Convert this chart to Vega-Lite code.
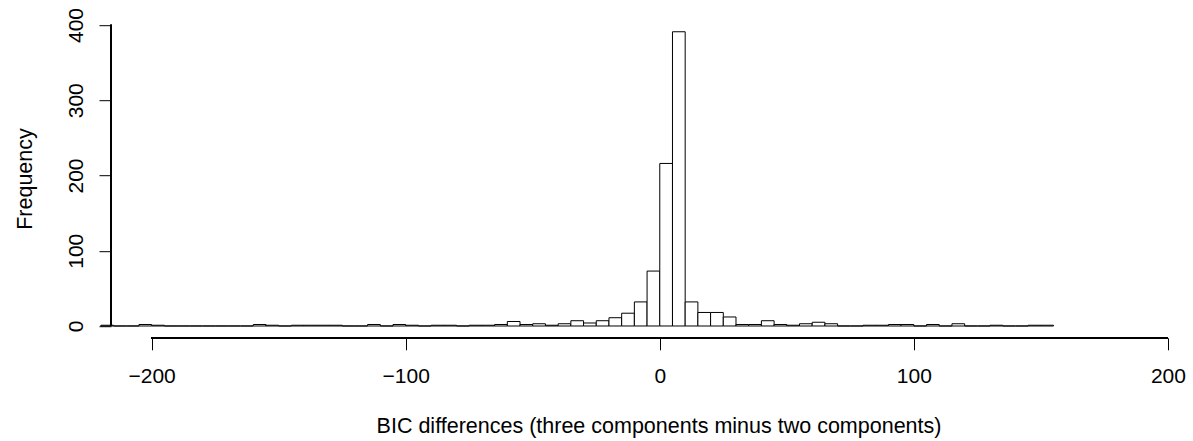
{
  "$schema": "https://vega.github.io/schema/vega-lite/v6.json",
  "width": 1079,
  "height": 318.6,
  "autosize": {"type": "none"},
  "padding": {"left": 111, "top": 19.2, "right": 3, "bottom": 103.2},
  "background": "white",
  "config": {
    "view": {"stroke": null},
    "font": "Liberation Sans",
    "axis": {
      "domain": false,
      "grid": false,
      "tickColor": "black",
      "tickWidth": 1,
      "tickSize": 12,
      "labelColor": "black",
      "labelFont": "Liberation Sans",
      "labelFontSize": 21,
      "titleColor": "black",
      "titleFont": "Liberation Sans",
      "titleFontSize": 21.5,
      "titleFontWeight": "normal",
      "labelFlush": false,
      "labelOverlap": false
    }
  },
  "data": {
    "values": [
      {"start": -220, "end": -215, "count": 1},
      {"start": -215, "end": -210, "count": 0},
      {"start": -210, "end": -205, "count": 0},
      {"start": -205, "end": -200, "count": 2},
      {"start": -200, "end": -195, "count": 1},
      {"start": -195, "end": -190, "count": 0},
      {"start": -190, "end": -185, "count": 0},
      {"start": -185, "end": -180, "count": 0},
      {"start": -180, "end": -175, "count": 0},
      {"start": -175, "end": -170, "count": 0},
      {"start": -170, "end": -165, "count": 0},
      {"start": -165, "end": -160, "count": 0},
      {"start": -160, "end": -155, "count": 2},
      {"start": -155, "end": -150, "count": 1},
      {"start": -150, "end": -145, "count": 0},
      {"start": -145, "end": -140, "count": 1},
      {"start": -140, "end": -135, "count": 1},
      {"start": -135, "end": -130, "count": 1},
      {"start": -130, "end": -125, "count": 1},
      {"start": -125, "end": -120, "count": 0},
      {"start": -120, "end": -115, "count": 0},
      {"start": -115, "end": -110, "count": 2},
      {"start": -110, "end": -105, "count": 0},
      {"start": -105, "end": -100, "count": 2},
      {"start": -100, "end": -95, "count": 1},
      {"start": -95, "end": -90, "count": 0},
      {"start": -90, "end": -85, "count": 1},
      {"start": -85, "end": -80, "count": 1},
      {"start": -80, "end": -75, "count": 0},
      {"start": -75, "end": -70, "count": 1},
      {"start": -70, "end": -65, "count": 1},
      {"start": -65, "end": -60, "count": 2},
      {"start": -60, "end": -55, "count": 6},
      {"start": -55, "end": -50, "count": 2},
      {"start": -50, "end": -45, "count": 3},
      {"start": -45, "end": -40, "count": 1},
      {"start": -40, "end": -35, "count": 3},
      {"start": -35, "end": -30, "count": 7},
      {"start": -30, "end": -25, "count": 4},
      {"start": -25, "end": -20, "count": 7},
      {"start": -20, "end": -15, "count": 11},
      {"start": -15, "end": -10, "count": 17},
      {"start": -10, "end": -5, "count": 32},
      {"start": -5, "end": 0, "count": 73},
      {"start": 0, "end": 5, "count": 216},
      {"start": 5, "end": 10, "count": 391},
      {"start": 10, "end": 15, "count": 32},
      {"start": 15, "end": 20, "count": 18},
      {"start": 20, "end": 25, "count": 18},
      {"start": 25, "end": 30, "count": 12},
      {"start": 30, "end": 35, "count": 2},
      {"start": 35, "end": 40, "count": 2},
      {"start": 40, "end": 45, "count": 7},
      {"start": 45, "end": 50, "count": 2},
      {"start": 50, "end": 55, "count": 1},
      {"start": 55, "end": 60, "count": 3},
      {"start": 60, "end": 65, "count": 5},
      {"start": 65, "end": 70, "count": 3},
      {"start": 70, "end": 75, "count": 0},
      {"start": 75, "end": 80, "count": 0},
      {"start": 80, "end": 85, "count": 1},
      {"start": 85, "end": 90, "count": 1},
      {"start": 90, "end": 95, "count": 2},
      {"start": 95, "end": 100, "count": 2},
      {"start": 100, "end": 105, "count": 0},
      {"start": 105, "end": 110, "count": 2},
      {"start": 110, "end": 115, "count": 0},
      {"start": 115, "end": 120, "count": 3},
      {"start": 120, "end": 125, "count": 0},
      {"start": 125, "end": 130, "count": 0},
      {"start": 130, "end": 135, "count": 1},
      {"start": 135, "end": 140, "count": 0},
      {"start": 140, "end": 145, "count": 0},
      {"start": 145, "end": 150, "count": 1},
      {"start": 150, "end": 155, "count": 1}
    ]
  },
  "layer": [
    {
      "mark": {"type": "bar", "fill": "white", "stroke": "black", "strokeWidth": 1, "clip": false},
      "encoding": {
        "x": {
          "field": "start",
          "type": "quantitative",
          "scale": {"domain": [-216, 208.7], "nice": false, "zero": false},
          "axis": {
            "values": [-200, -100, 0, 100, 200],
            "labelPadding": 16,
            "title": "BIC differences (three components minus two components)",
            "titleX": 547.5,
            "titleY": 95,
            "titleAlign": "center",
            "titleBaseline": "alphabetic"
          }
        },
        "x2": {"field": "end"},
        "y": {
          "field": "count",
          "type": "quantitative",
          "scale": {"domain": [-15.68, 407.68], "nice": false, "zero": false},
          "axis": {
            "values": [0, 100, 200, 300, 400],
            "labelAngle": -90,
            "labelAlign": "center",
            "labelBaseline": "alphabetic",
            "labelPadding": 17,
            "title": "Frequency",
            "titleAngle": -90,
            "titleX": -79.3,
            "titleY": 159.3,
            "titleAlign": "center",
            "titleBaseline": "alphabetic"
          }
        },
        "y2": {"datum": 0}
      }
    },
    {
      "mark": {"type": "rule", "color": "black", "strokeWidth": 1},
      "encoding": {
        "x": {"datum": -200, "type": "quantitative"},
        "x2": {"datum": 200},
        "y": {"datum": -15.68, "type": "quantitative"}
      }
    },
    {
      "mark": {"type": "rule", "color": "black", "strokeWidth": 1},
      "encoding": {
        "x": {"datum": -216, "type": "quantitative"},
        "y": {"datum": 0, "type": "quantitative"},
        "y2": {"datum": 400}
      }
    }
  ]
}
